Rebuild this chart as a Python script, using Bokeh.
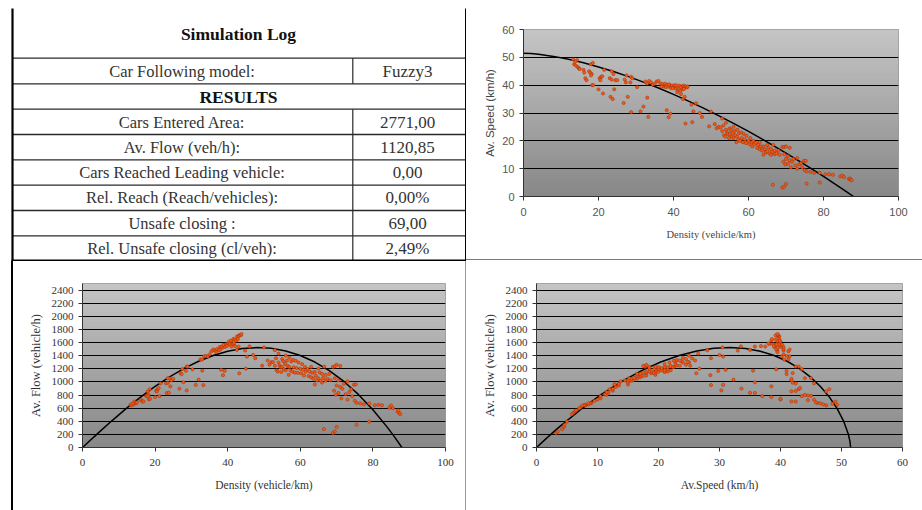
import numpy as np
from bokeh.plotting import figure
from bokeh.layouts import row, column
from bokeh.models import Range1d, FixedTicker
from bokeh.core.properties import value
from bokeh.embed import file_html
from bokeh.resources import INLINE

SERIF = "Liberation Serif"
SANS = "Liberation Sans"

# ---------------- data ----------------
table_title = "Simulation Log"
section_title = "RESULTS"
table_labels = ["Car Following model:", "Cars Entered Area:", "Av. Flow (veh/h):",
                "Cars Reached Leading vehicle:", "Rel. Reach (Reach/vehicles):",
                "Unsafe closing :", "Rel. Unsafe closing (cl/veh):"]
table_values = ["Fuzzy3", "2771,00", "1120,85", "0,00", "0,00%", "69,00", "2,49%"]

density = [13.2, 13.5, 14.0, 14.3, 14.5, 14.8, 15.0, 13.8, 16.0, 16.2,
           16.5, 16.8, 17.5, 17.8, 18.0, 18.2, 18.5, 18.0, 18.3, 18.6,
           20.0, 20.3, 20.5, 20.7, 21.0, 21.2, 21.5, 23.0, 23.2, 23.5,
           23.8, 24.0, 24.2, 24.5, 25.0, 23.5, 26.7, 27.0, 27.3, 27.5,
           27.8, 28.5, 28.7, 28.7, 29.0, 30.3, 31.2, 32.0, 32.5, 33.0,
           33.3, 33.0, 33.5, 34.0, 34.5, 35.0, 35.5, 36.0, 36.5, 37.0,
           37.5, 37.8, 38.0, 38.3, 38.6, 39.0, 39.3, 39.6, 40.0, 40.3,
           40.6, 41.0, 41.3, 41.6, 42.0, 42.3, 42.6, 43.0, 43.3, 43.6,
           43.8, 36.8, 38.8, 39.8, 40.8, 41.8, 42.8, 41.0, 42.0, 42.5,
           43.0, 38.2, 38.7, 39.2, 43.2, 44.8, 45.0, 45.3, 46.0, 47.0,
           47.6, 49.5, 50.0, 51.0, 51.5, 52.0, 52.5, 53.0, 53.0, 53.3,
           53.5, 53.8, 54.0, 54.0, 54.3, 54.5, 54.8, 55.0, 55.0, 55.3,
           55.5, 55.8, 56.0, 56.0, 56.3, 56.5, 56.8, 57.0, 57.0, 57.3,
           57.5, 57.8, 58.0, 58.2, 58.5, 58.7, 59.0, 59.3, 59.5, 60.0,
           60.2, 60.5, 60.8, 61.0, 61.3, 61.5, 62.0, 62.3, 62.6, 63.0,
           63.0, 63.3, 63.6, 64.0, 64.0, 64.3, 64.6, 65.0, 65.0, 65.3,
           65.6, 66.0, 66.0, 66.3, 66.6, 67.0, 67.0, 67.5, 68.0, 68.3,
           69.0, 69.5, 69.5, 70.0, 70.5, 71.0, 69.3, 69.8, 70.0, 70.5,
           71.0, 71.3, 71.6, 72.0, 72.5, 73.0, 73.0, 73.5, 74.0, 74.3,
           74.8, 75.0, 75.5, 76.5, 77.5, 79.0, 80.5, 81.5, 82.5, 84.5,
           85.0, 85.5, 86.8, 87.0, 87.3, 87.5, 66.5, 69.0, 69.5, 70.0,
           75.5, 79.0, 75.3]

speed = [49.3, 47.5, 47.0, 49.0, 46.5, 46.0, 45.8, 48.5, 45.5, 44.5,
         42.5, 41.8, 45.0, 44.5, 47.5, 44.0, 48.0, 43.5, 40.0, 40.0,
         38.5, 42.5, 41.8, 43.0, 43.2, 37.0, 45.5, 42.5, 35.8, 42.0,
         35.0, 44.0, 38.5, 41.8, 41.8, 45.0, 33.6, 42.0, 41.0, 43.5,
         35.8, 41.0, 43.0, 30.3, 42.5, 39.3, 30.6, 32.3, 41.3, 35.5,
         28.6, 40.6, 41.5, 41.0, 40.2, 40.5, 41.3, 41.5, 40.5, 40.5,
         39.5, 40.5, 39.3, 40.0, 39.5, 40.0, 39.0, 39.8, 39.3, 40.0,
         38.8, 39.5, 38.2, 39.8, 39.2, 38.5, 39.8, 39.5, 39.6, 39.2,
         39.5, 39.5, 40.3, 38.9, 39.9, 38.0, 38.6, 37.5, 36.8, 35.0,
         35.8, 31.0, 28.5, 29.8, 26.2, 33.0, 26.7, 30.6, 33.5, 30.0,
         28.6, 25.2, 30.5, 26.0, 24.5, 25.0, 24.8, 28.0, 23.5, 25.5,
         22.0, 21.5, 24.0, 26.5, 23.0, 22.5, 21.0, 24.5, 22.3, 23.8,
         21.5, 22.8, 25.0, 21.0, 23.5, 22.0, 19.5, 24.0, 21.5, 20.5,
         22.8, 20.0, 23.0, 21.0, 19.5, 22.5, 20.5, 19.2, 21.8, 20.0,
         18.8, 21.0, 19.5, 18.0, 20.0, 18.8, 19.3, 17.5, 18.5, 17.0,
         19.5, 18.0, 16.5, 18.0, 15.0, 17.0, 15.8, 18.5, 16.2, 17.5,
         15.5, 17.0, 15.0, 16.0, 18.5, 16.5, 15.2, 15.5, 16.5, 15.0,
         17.8, 15.2, 17.8, 18.0, 14.5, 17.5, 12.5, 11.5, 13.5, 11.8,
         13.0, 10.5, 12.5, 13.5, 11.2, 13.8, 10.0, 11.5, 12.0, 10.5,
         12.8, 9.5, 9.0, 8.8, 8.5, 8.5, 8.0, 8.0, 7.8, 7.2,
         7.5, 7.0, 6.3, 6.5, 6.0, 5.8, 4.2, 3.2, 3.5, 4.5,
         4.6, 5.0, 12.8]

flow = [651, 641, 658, 701, 674, 681, 687, 669, 728, 721,
        701, 702, 788, 792, 855, 801, 888, 783, 732, 744,
        770, 863, 857, 890, 907, 784, 978, 978, 831, 987,
        833, 1056, 932, 1024, 1045, 1058, 897, 1134, 1119, 1196,
        995, 1169, 1234, 870, 1233, 1191, 955, 1034, 1342, 1172,
        952, 1340, 1390, 1394, 1387, 1418, 1466, 1494, 1478, 1499,
        1481, 1531, 1493, 1532, 1525, 1560, 1533, 1576, 1572, 1612,
        1575, 1620, 1578, 1656, 1646, 1629, 1695, 1699, 1715, 1709,
        1730, 1454, 1564, 1548, 1628, 1588, 1652, 1538, 1546, 1488,
        1539, 1184, 1103, 1168, 1132, 1478, 1202, 1386, 1541, 1410,
        1361, 1247, 1525, 1326, 1262, 1300, 1302, 1484, 1246, 1359,
        1177, 1157, 1296, 1431, 1249, 1226, 1151, 1348, 1227, 1316,
        1193, 1272, 1400, 1176, 1323, 1243, 1108, 1368, 1226, 1175,
        1311, 1156, 1334, 1222, 1141, 1321, 1210, 1139, 1297, 1200,
        1132, 1271, 1186, 1098, 1226, 1156, 1197, 1090, 1158, 1071,
        1229, 1139, 1049, 1152, 960, 1093, 1021, 1203, 1053, 1143,
        1017, 1122, 990, 1061, 1232, 1106, 1018, 1046, 1122, 1025,
        1228, 1056, 1237, 1260, 1022, 1243, 866, 803, 945, 832,
        923, 749, 895, 972, 812, 1007, 730, 845, 888, 780,
        957, 713, 680, 673, 659, 672, 644, 652, 644, 608,
        638, 599, 547, 566, 524, 508, 279, 221, 243, 315,
        347, 395, 964]

fit_density = [0, 2, 4, 8, 12, 16, 20, 24, 28, 32, 36, 40, 44, 48, 52, 56, 60,
               64, 68, 72, 76, 80, 84, 86, 88]
fit_speed = [51.5, 51.37, 51.11, 50.34, 49.29, 48.02, 46.55, 44.88, 43.06, 41.09,
             38.96, 36.68, 34.27, 31.73, 29.07, 26.29, 23.38, 20.36, 17.23, 13.99,
             10.65, 7.20, 3.65, 1.84, 0]
fit_flow = [0, 103, 204, 403, 592, 768, 931, 1077, 1206, 1315, 1403, 1467, 1508,
            1523, 1512, 1472, 1403, 1303, 1172, 1007, 809, 576, 307, 158, 0]

density_ticks = [0, 20, 40, 60, 80, 100]
speed_ticks = [0, 10, 20, 30, 40, 50, 60]
flow_ticks = list(range(0, 2401, 200))

POINT_FILL = "#f25a1a"
POINT_LINE = "#a02c00"


def gradient(p, x0, x1, y0, y1, top=(197, 197, 197), bottom=(136, 136, 136), n=96):
    img = np.empty((n, 1), dtype=np.uint32)
    view = img.view(dtype=np.uint8).reshape((n, 1, 4))
    for i in range(n):
        t = i / (n - 1)
        for c in range(3):
            view[i, 0, c] = int(round(bottom[c] + (top[c] - bottom[c]) * t))
        view[i, 0, 3] = 255
    p.image_rgba(image=[img], x=x0, y=y0, dw=x1 - x0, dh=y1 - y0, level="image")


def make_chart(width, height, xr, yr, xticks, yticks, borders, xlabel, ylabel,
               tick_font, tick_size, tick_color, xlab_font, ylab_font, xlab_size, ylab_size,
               lab_color, ylab_standoff=6, css_background=None):
    l, r, t, b = borders
    kw = {}
    if css_background:
        kw["styles"] = {"background": css_background}
    p = figure(width=width, height=height, x_range=Range1d(*xr), y_range=Range1d(*yr),
               min_border_left=l, min_border_right=r, min_border_top=t, min_border_bottom=b,
               toolbar_location=None, tools="", output_backend="svg", **kw)
    p.frame_align = False
    p.background_fill_color = "#a8a8a8"
    p.border_fill_color = None if css_background else "white"
    p.outline_line_color = "#9a9a9a"
    gradient(p, xr[0], xr[1], yr[0], yr[1])
    p.xgrid.grid_line_color = None
    p.ygrid.grid_line_color = "black"
    p.ygrid.grid_line_width = 1
    p.xaxis.ticker = FixedTicker(ticks=xticks)
    p.yaxis.ticker = FixedTicker(ticks=yticks)
    for ax in (p.xaxis[0], p.yaxis[0]):
        ax.minor_tick_line_color = None
        ax.major_tick_in = 0
        ax.major_tick_out = 4
        ax.axis_line_color = "#333333"
        ax.major_tick_line_color = "#333333"
        ax.major_label_text_font = tick_font
        ax.major_label_text_font_size = tick_size
        ax.major_label_text_color = tick_color
        ax.axis_label_text_color = lab_color
        ax.axis_label_text_font_style = "normal"
    p.xaxis.axis_label = xlabel
    p.yaxis.axis_label = ylabel
    p.xaxis.axis_label_text_font = xlab_font
    p.yaxis.axis_label_text_font = ylab_font
    p.xaxis.axis_label_text_font_size = xlab_size
    p.yaxis.axis_label_text_font_size = ylab_size
    p.xaxis.major_label_standoff = 7
    p.yaxis.major_label_standoff = 5
    p.xaxis.axis_label_standoff = 10
    p.yaxis.axis_label_standoff = ylab_standoff
    return p


# ---------------- table (page pixel coordinates) ----------------
tbl = figure(frame_width=466, frame_height=261, min_border=0, toolbar_location=None, tools="",
             output_backend="svg", x_axis_location=None, y_axis_location=None,
             x_range=Range1d(0, 466), y_range=Range1d(261, 0))
tbl.frame_align = False
tbl.outline_line_color = None
tbl.grid.visible = False
tbl.background_fill_color = "white"
tbl.border_fill_color = "white"

row_lines = [57.7, 83.3, 108.7, 134.0, 159.3, 184.7, 210.0, 235.3]
tbl.segment(x0=[12] * len(row_lines), x1=[466] * len(row_lines), y0=row_lines, y1=row_lines,
            line_color="#2a2a2a", line_width=1.3)
tbl.segment(x0=[352.3, 352.3], x1=[352.3, 352.3], y0=[57.7, 108.7], y1=[83.3, 260],
            line_color="#2a2a2a", line_width=1.2)
tbl.segment(x0=[465.3], x1=[465.3], y0=[8], y1=[260], line_color="black", line_width=1.6)
tbl.segment(x0=[12], x1=[12], y0=[8], y1=[261], line_color="black", line_width=2.2)
tbl.segment(x0=[11], x1=[466], y0=[260], y1=[260], line_color="black", line_width=2.0)

tbl.text(x=[238], y=[33.5], text=[table_title], text_font=value(SERIF), text_font_size="17.5px",
         text_font_style="bold", text_align="center", text_baseline="middle", text_color="#111111")
tbl.text(x=[238], y=[96.5], text=[section_title], text_font=value(SERIF), text_font_size="17.5px",
         text_font_style="bold", text_align="center", text_baseline="middle", text_color="#111111")
row_centers = [70.5, 121.5, 146.8, 172.1, 197.4, 222.7, 248.0]
tbl.text(x=[181.5] * len(table_labels), y=row_centers, text=table_labels, text_font=value(SERIF),
         text_font_size="16.5px", text_align="center", text_baseline="middle", text_color="#333333")
tbl.text(x=[407] * len(table_values), y=row_centers, text=table_values, text_font=value(SERIF),
         text_font_size="17px", text_align="center", text_baseline="middle", text_color="#333333")

# ---------------- charts ----------------
speed_chart = make_chart(456, 261, (0, 100), (0, 60), density_ticks, speed_ticks,
                         (57, 24, 29, 65), "Density (vehicle/km)", "Av. Speed (km/h)",
                         SANS, "11px", "#555555", SERIF, SANS, "10.5px", "11.5px", "#444444",
                         ylab_standoff=3,
                         css_background="linear-gradient(to bottom, #ffffff 259px, #7a7a7a 259px, #7a7a7a 260px, #ffffff 260px)")
speed_chart.line(fit_density, fit_speed, line_color="black", line_width=1.5)
speed_chart.scatter(density, speed, size=3.2, marker="circle", fill_color=POINT_FILL,
                    line_color=POINT_LINE, line_width=0.5)

flow_density_chart = make_chart(466, 249, (0, 100), (0, 2500), density_ticks, flow_ticks,
                                (82, 21, 22, 63), "Density (vehicle/km)", "Av. Flow (vehicle/h)",
                                SERIF, "11px", "#333333", SERIF, SERIF, "11.5px", "12.5px", "#333333",
                                ylab_standoff=6,
                                css_background="linear-gradient(to right, #ffffff 11px, #000000 11px, #000000 13px, #ffffff 13px, #ffffff 465px, #9a9a9a 465px)")
flow_density_chart.line(fit_density, fit_flow, line_color="black", line_width=1.5)
flow_density_chart.scatter(density, flow, size=3.2, marker="circle", fill_color=POINT_FILL,
                           line_color=POINT_LINE, line_width=0.5)

flow_speed_chart = make_chart(456, 249, (0, 60), (0, 2500), speed_ticks, flow_ticks,
                              (70, 20, 22, 63), "Av.Speed (km/h)", "Av. Flow (vehicle/h)",
                              SERIF, "11px", "#333333", SERIF, SERIF, "11.5px", "12.5px", "#333333",
                              ylab_standoff=6)
flow_speed_chart.line(fit_speed, fit_flow, line_color="black", line_width=1.5)
flow_speed_chart.scatter(speed, flow, size=3.2, marker="circle", fill_color=POINT_FILL,
                         line_color=POINT_LINE, line_width=0.5)

# ---------------- layout ----------------
page = column(row(tbl, speed_chart), row(flow_density_chart, flow_speed_chart))

open("out.html", "w").write(file_html(page, INLINE))
